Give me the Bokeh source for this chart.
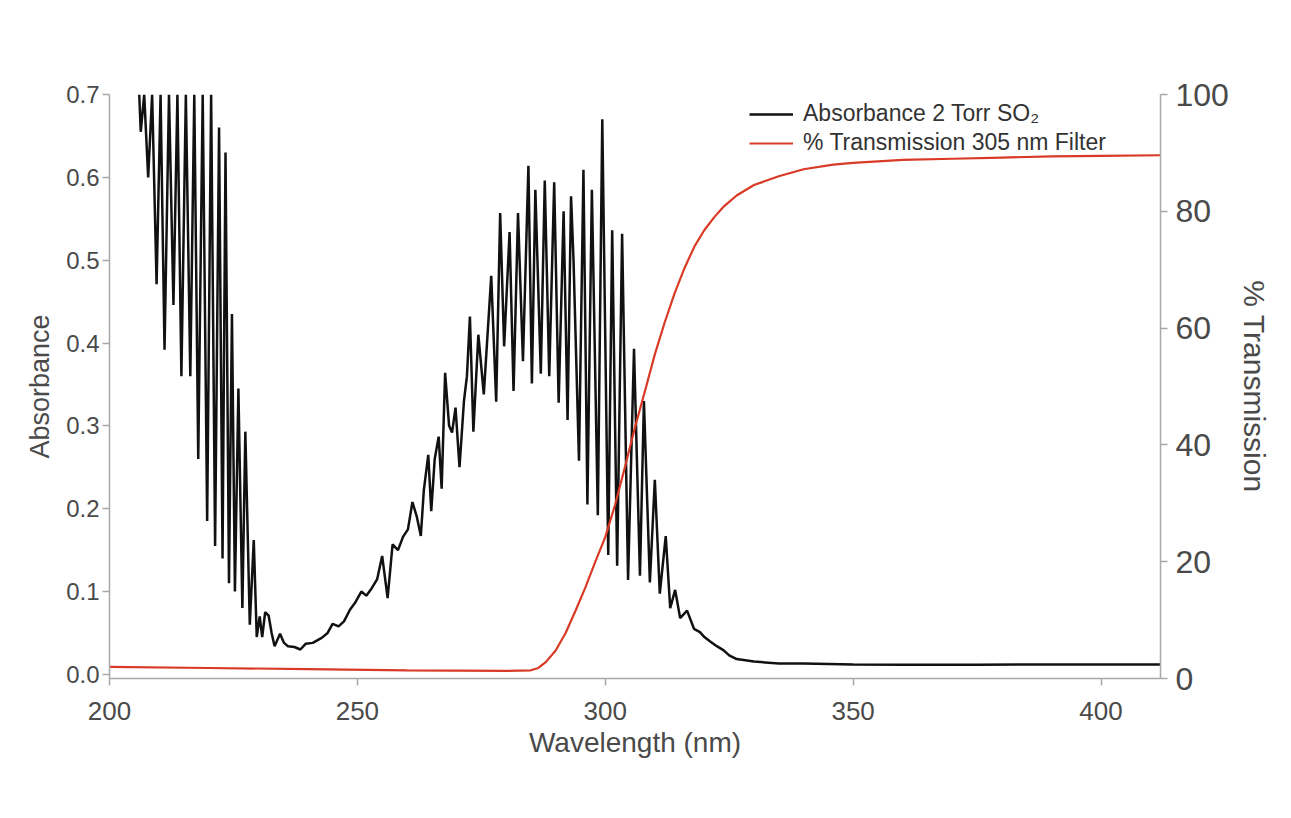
from bokeh.plotting import figure
from bokeh.models import (Range1d, LinearAxis, FixedTicker, Legend, LegendItem,
                          NumeralTickFormatter)
from bokeh.embed import file_html
from bokeh.resources import INLINE

# ---------------- data ----------------
wavelength_abs = [
    206.0, 206.3, 207.0, 207.8, 208.6, 209.5, 210.3, 211.1, 212.0, 212.9,
    213.7, 214.5, 215.4, 216.3, 217.1, 217.9, 218.8, 219.7, 220.5, 221.3,
    222.1, 222.8, 223.4, 224.1, 224.7, 225.3, 226.0, 226.8, 227.4, 228.3,
    229.1, 229.7, 230.3, 230.8, 231.4, 232.1, 232.7, 233.3, 234.4, 235.2,
    236.0, 237.3, 238.5, 239.6, 241.0, 242.8, 244.0, 245.0, 246.2, 247.3,
    248.5, 249.5, 250.8, 251.8, 252.9, 254.0, 255.0, 256.1, 257.1, 258.2,
    259.2, 260.2, 261.1, 262.0, 262.8, 263.4, 264.3, 264.9, 265.6, 266.4,
    267.0, 267.7, 268.5, 269.1, 269.8, 270.6, 271.5, 272.1, 272.7, 273.4,
    274.4, 275.5, 277.0, 278.0, 278.8, 279.6, 280.7, 281.5, 282.4, 283.4,
    284.5, 285.2, 285.9, 287.0, 287.8, 288.7, 289.7, 290.6, 291.6, 292.4,
    293.1, 293.6, 294.7, 295.6, 296.4, 297.3, 298.5, 299.4, 300.6, 301.4,
    302.4, 303.4, 304.6, 305.8, 307.0, 307.8, 309.0, 310.0, 311.0, 312.2,
    313.1, 314.1, 315.1, 316.5, 317.9, 319.1, 320.0, 321.1, 322.5, 323.9,
    325.0, 326.5, 330.0, 335.0, 340.0, 350.0, 360.0, 375.0, 390.0, 400.0,
    412.0,
]
absorbance = [
    0.70, 0.655, 0.70, 0.60, 0.70, 0.471, 0.70, 0.392, 0.70, 0.446,
    0.70, 0.36, 0.70, 0.36, 0.70, 0.26, 0.70, 0.185, 0.70, 0.155,
    0.66, 0.14, 0.63, 0.11, 0.435, 0.10, 0.345, 0.08, 0.293, 0.06,
    0.162, 0.045, 0.07, 0.045, 0.075, 0.071, 0.05, 0.034, 0.049, 0.038,
    0.034, 0.033, 0.03, 0.037, 0.038, 0.044, 0.05, 0.061, 0.058, 0.064,
    0.078, 0.086, 0.10, 0.095, 0.104, 0.115, 0.143, 0.092, 0.157, 0.15,
    0.166, 0.175, 0.208, 0.19, 0.167, 0.222, 0.265, 0.197, 0.26, 0.287,
    0.224, 0.364, 0.30, 0.292, 0.322, 0.25, 0.33, 0.36, 0.432, 0.293,
    0.41, 0.338, 0.481, 0.329, 0.557, 0.396, 0.534, 0.342, 0.557, 0.378,
    0.614, 0.351, 0.585, 0.363, 0.596, 0.36, 0.594, 0.328, 0.559, 0.307,
    0.577, 0.50, 0.258, 0.609, 0.205, 0.585, 0.192, 0.67, 0.144, 0.536,
    0.131, 0.532, 0.114, 0.393, 0.119, 0.33, 0.111, 0.235, 0.0975, 0.167,
    0.08, 0.102, 0.068, 0.077, 0.055, 0.051, 0.045, 0.04, 0.034, 0.029,
    0.023, 0.0185, 0.0155, 0.013, 0.013, 0.012, 0.0115, 0.0115, 0.012, 0.012,
    0.012,
]

wavelength_tr = [
    200, 220, 240, 260, 280, 285, 286.5, 288, 290, 292,
    294, 296, 298, 300, 302, 304, 306, 308, 310, 312,
    314, 316, 318, 320, 322, 324, 326.5, 330, 335, 340,
    346, 350, 360, 370, 380, 390, 400, 412,
]
transmission = [
    2.0, 1.8, 1.6, 1.4, 1.3, 1.4, 1.8, 2.8, 4.8, 7.8,
    11.6, 15.6, 20.0, 24.2, 29.8, 36.3, 43.0, 49.2, 55.5, 61.0,
    66.0, 70.3, 74.0, 76.8, 79.0, 80.9, 82.7, 84.5, 86.0, 87.2,
    88.0, 88.3, 88.8, 89.0, 89.2, 89.4, 89.5, 89.6,
]

abs_ticks = [0.0, 0.1, 0.2, 0.3, 0.4, 0.5, 0.6, 0.7]
tr_ticks = [0, 20, 40, 60, 80, 100]
wl_ticks = [200, 250, 300, 350, 400]

legend_labels = ["Absorbance 2 Torr SO\u2082", "% Transmission 305 nm Filter"]
series_colors = ["#111111", "#d93a26"]

FONT = "Liberation Sans"
AXIS_COL = "#a8a8a8"
TEXT_COL = "#4a4a4a"

# ---------------- figure ----------------
p = figure(width=1275, height=802,
           x_range=Range1d(200, 412), y_range=Range1d(-0.005, 0.70),
           output_backend="svg", toolbar_location=None,
           min_border_left=109, min_border_right=115,
           min_border_top=94, min_border_bottom=124)
p.outline_line_color = None
p.xgrid.visible = False
p.ygrid.visible = False
p.background_fill_color = "white"
p.border_fill_color = "white"

p.extra_y_ranges = {"trans": Range1d(0, 100)}

r_abs = p.line(wavelength_abs, absorbance, color=series_colors[0], line_width=2.5)
r_tr = p.line(wavelength_tr, transmission, y_range_name="trans",
              color=series_colors[1], line_width=2.2)

# left axis
la = p.left[0]
la.ticker = FixedTicker(ticks=abs_ticks)
la.formatter = NumeralTickFormatter(format="0.0")
la.axis_label = "Absorbance"
la.axis_label_text_font = FONT
la.axis_label_text_font_size = "27px"
la.axis_label_text_font_style = "normal"
la.axis_label_text_color = TEXT_COL
la.axis_label_standoff = 8
la.major_label_text_font = FONT
la.major_label_text_font_size = "24px"
la.major_label_text_color = TEXT_COL
la.major_label_standoff = 3

# bottom axis
ba = p.below[0]
ba.ticker = FixedTicker(ticks=wl_ticks)
ba.formatter = NumeralTickFormatter(format="0")
ba.axis_label = "Wavelength (nm)"
ba.axis_label_text_font = FONT
ba.axis_label_text_font_size = "28px"
ba.axis_label_text_font_style = "normal"
ba.axis_label_text_color = TEXT_COL
ba.axis_label_standoff = 4
ba.major_label_text_font = FONT
ba.major_label_text_font_size = "26px"
ba.major_label_text_color = TEXT_COL
ba.major_label_standoff = 16

# right axis
ra = LinearAxis(y_range_name="trans", ticker=FixedTicker(ticks=tr_ticks),
                formatter=NumeralTickFormatter(format="0"),
                axis_label="% Transmission")
ra.axis_label_text_font = FONT
ra.axis_label_text_font_size = "30px"
ra.axis_label_text_font_style = "normal"
ra.axis_label_text_color = TEXT_COL
ra.axis_label_standoff = 6
ra.major_label_text_font = FONT
ra.major_label_text_font_size = "32px"
ra.major_label_text_color = TEXT_COL
ra.major_label_standoff = 8
p.add_layout(ra, "right")

for ax in (la, ba, ra):
    ax.axis_line_color = AXIS_COL
    ax.axis_line_width = 1.5
    ax.major_tick_line_color = AXIS_COL
    ax.major_tick_line_width = 1.5
    ax.major_tick_in = 0
    ax.major_tick_out = 7
    ax.minor_tick_line_color = None

legend = Legend(items=[LegendItem(label=legend_labels[0], renderers=[r_abs]),
                       LegendItem(label=legend_labels[1], renderers=[r_tr])],
                location="top_right")
legend.border_line_color = None
legend.background_fill_alpha = 0
legend.label_text_font = FONT
legend.label_text_font_size = "23px"
legend.label_text_color = "#333333"
legend.glyph_width = 44
legend.glyph_height = 26
legend.label_height = 26
legend.spacing = 2
legend.padding = 0
legend.margin = 0
legend.label_standoff = 10
legend.location = (640, 576 - 54)
p.add_layout(legend)

open("out.html", "w").write(file_html(p, INLINE))
